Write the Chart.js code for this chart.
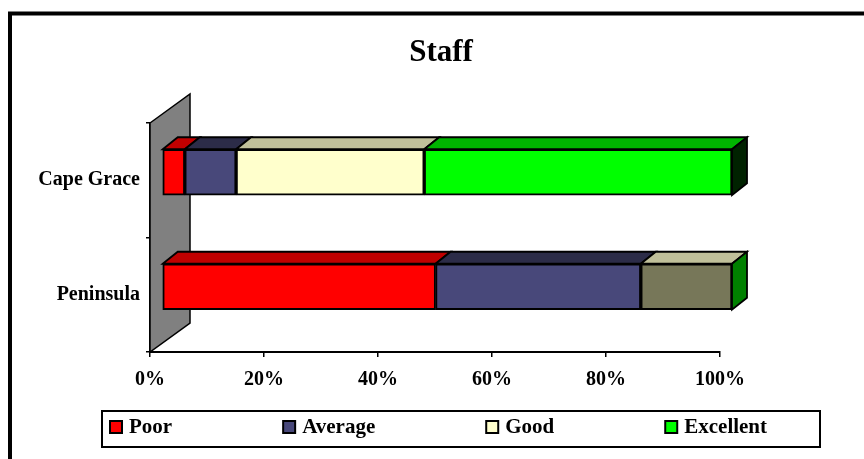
<!DOCTYPE html>
<html><head><meta charset="utf-8">
<script src="https://cdn.jsdelivr.net/npm/chart.js@4.4.0/dist/chart.umd.min.js"></script>
<style>html,body{margin:0;padding:0;background:#fff;}#wrap{width:864px;height:459px;position:relative;}</style>
</head><body><div id="wrap"><canvas id="c" width="864" height="459"></canvas></div>
<script>
// ---- data ----
const categories = ['Cape Grace', 'Peninsula'];
const seriesNames = ['Poor', 'Average', 'Good', 'Excellent'];
const poor = [4, 48];
const average = [9, 36];
const good = [33, 16];
const excellent = [54, 0];
const xTickLabels = ['0%', '20%', '40%', '60%', '80%', '100%'];
const titleText = 'Staff';

// ---- styles ----
const frontColors = [['#ff0000', '#ff0000'], ['#48487a', '#48487a'], ['#ffffcc', '#777759'], ['#00ff00', '#00ff00']];
const topColors = [['#c00000', '#c00000'], ['#2c2c48', '#2c2c48'], ['#c0c09a', '#c0c09a'], ['#00b400', '#00b400']];
const sideColors = ['#002200', '#008000'];
const legendColors = ['#ff0000', '#48487a', '#ffffcc', '#00ff00'];
const FONT = '"Liberation Serif", "Times New Roman", serif';
const DEPTH = {dx: 15, dy: -12};
const SHIFT = {dx: 12, dy: -8};
const WALL = {dx: 40, dy: -29};

const values = [poor, average, good, excellent];

const threeD = {
  id: 'threeD',
  beforeDatasetsDraw(chart) {
    const {ctx, chartArea} = chart;
    const x0 = chart.scales.x.getPixelForValue(0);
    const t = chartArea.top, b = chartArea.bottom;
    ctx.save();
    ctx.beginPath();
    ctx.moveTo(x0, t);
    ctx.lineTo(x0 + WALL.dx, t + WALL.dy);
    ctx.lineTo(x0 + WALL.dx, b + WALL.dy);
    ctx.lineTo(x0, b);
    ctx.closePath();
    ctx.fillStyle = '#808080';
    ctx.fill();
    ctx.lineWidth = 1.5;
    ctx.strokeStyle = '#000';
    ctx.stroke();
    ctx.restore();
    ctx.save();
    ctx.translate(SHIFT.dx, SHIFT.dy);
  },
  afterDatasetsDraw(chart) {
    const {ctx} = chart;
    ctx.lineWidth = 1.8;
    ctx.strokeStyle = '#000';
    ctx.lineJoin = 'miter';
    chart.data.datasets.forEach((ds, di) => {
      const meta = chart.getDatasetMeta(di);
      meta.data.forEach((bar, i) => {
        const p = bar.getProps(['x', 'base', 'y', 'height'], true);
        const l = Math.min(p.x, p.base), r = Math.max(p.x, p.base);
        const t = p.y - p.height / 2;
        if (r - l < 0.5) return;
        ctx.beginPath();
        ctx.moveTo(l, t);
        ctx.lineTo(l + DEPTH.dx, t + DEPTH.dy);
        ctx.lineTo(r + DEPTH.dx, t + DEPTH.dy);
        ctx.lineTo(r, t);
        ctx.closePath();
        ctx.fillStyle = topColors[di][i];
        ctx.fill();
        ctx.stroke();
      });
    });
    const last = chart.data.datasets.length - 1;
    chart.getDatasetMeta(last).data.forEach((bar, i) => {
      const p = bar.getProps(['x', 'base', 'y', 'height'], true);
      const r = Math.max(p.x, p.base);
      const t = p.y - p.height / 2, b = p.y + p.height / 2;
      ctx.beginPath();
      ctx.moveTo(r, t);
      ctx.lineTo(r + DEPTH.dx, t + DEPTH.dy);
      ctx.lineTo(r + DEPTH.dx, b + DEPTH.dy);
      ctx.lineTo(r, b);
      ctx.closePath();
      ctx.fillStyle = sideColors[i];
      ctx.fill();
      ctx.stroke();
    });
    ctx.restore();
  },
  afterDraw(chart) {
    const {ctx} = chart;
    ctx.save();
    // outer frame
    ctx.lineWidth = 4;
    ctx.strokeStyle = '#000';
    ctx.strokeRect(10, 13.5, 900, 500);
    // legend box
    ctx.lineWidth = 2;
    ctx.strokeRect(102, 411, 718, 36);
    // legend items
    ctx.font = 'bold 21px ' + FONT;
    ctx.textBaseline = 'middle';
    ctx.textAlign = 'left';
    let x = 109;
    const cy = 427;
    chart.data.datasets.forEach((ds, i) => {
      ctx.fillStyle = '#000';
      ctx.fillRect(x, cy - 7, 14, 14);
      ctx.fillStyle = legendColors[i];
      ctx.fillRect(x + 2, cy - 5, 10, 10);
      ctx.fillStyle = '#000';
      const tx = x + 20;
      ctx.fillText(ds.label, tx, cy + 1);
      x = tx + ctx.measureText(ds.label).width + 110;
    });
    ctx.restore();
  }
};

const datasets = seriesNames.map((name, i) => ({
  label: name,
  data: values[i],
  backgroundColor: frontColors[i],
  borderColor: '#000',
  borderWidth: 2,
  borderSkipped: false,
  barThickness: 46,
  clip: false
}));

new Chart(document.getElementById('c'), {
  type: 'bar',
  data: {labels: categories, datasets},
  plugins: [threeD],
  options: {
    indexAxis: 'y',
    responsive: false,
    animation: false,
    devicePixelRatio: 1,
    layout: {padding: {left: 18, right: 0, top: 0, bottom: 59}},
    plugins: {
      legend: {display: false},
      tooltip: {enabled: false},
      title: {
        display: true,
        text: titleText,
        color: '#000',
        font: {family: FONT, size: 31, weight: 'bold'},
        padding: {top: 34, bottom: 51.8}
      }
    },
    scales: {
      x: {
        type: 'linear',
        stacked: true,
        min: 0,
        max: 100,
        ticks: {
          stepSize: 20,
          color: '#000',
          padding: 11,
          font: {family: FONT, size: 20, weight: 'bold'},
          callback: (v, i) => xTickLabels[i]
        },
        grid: {drawOnChartArea: false, tickLength: 5, color: '#000', lineWidth: 1.5},
        border: {display: true, color: '#000', width: 2},
        afterFit: s => { s.height = 48; }
      },
      y: {
        type: 'category',
        stacked: true,
        position: 'left',
        ticks: {color: '#000', padding: 6, font: {family: FONT, size: 20, weight: 'bold'}},
        grid: {drawOnChartArea: false, tickLength: 4, color: '#000', lineWidth: 1.5},
        border: {display: true, color: '#000', width: 2},
        afterFit: s => { s.width = 132; }
      },
      yPad: {
        type: 'category',
        position: 'right',
        labels: categories,
        ticks: {display: false},
        grid: {display: false},
        border: {display: false},
        afterFit: s => { s.width = 144; }
      }
    }
  }
});
</script>
</body></html>
